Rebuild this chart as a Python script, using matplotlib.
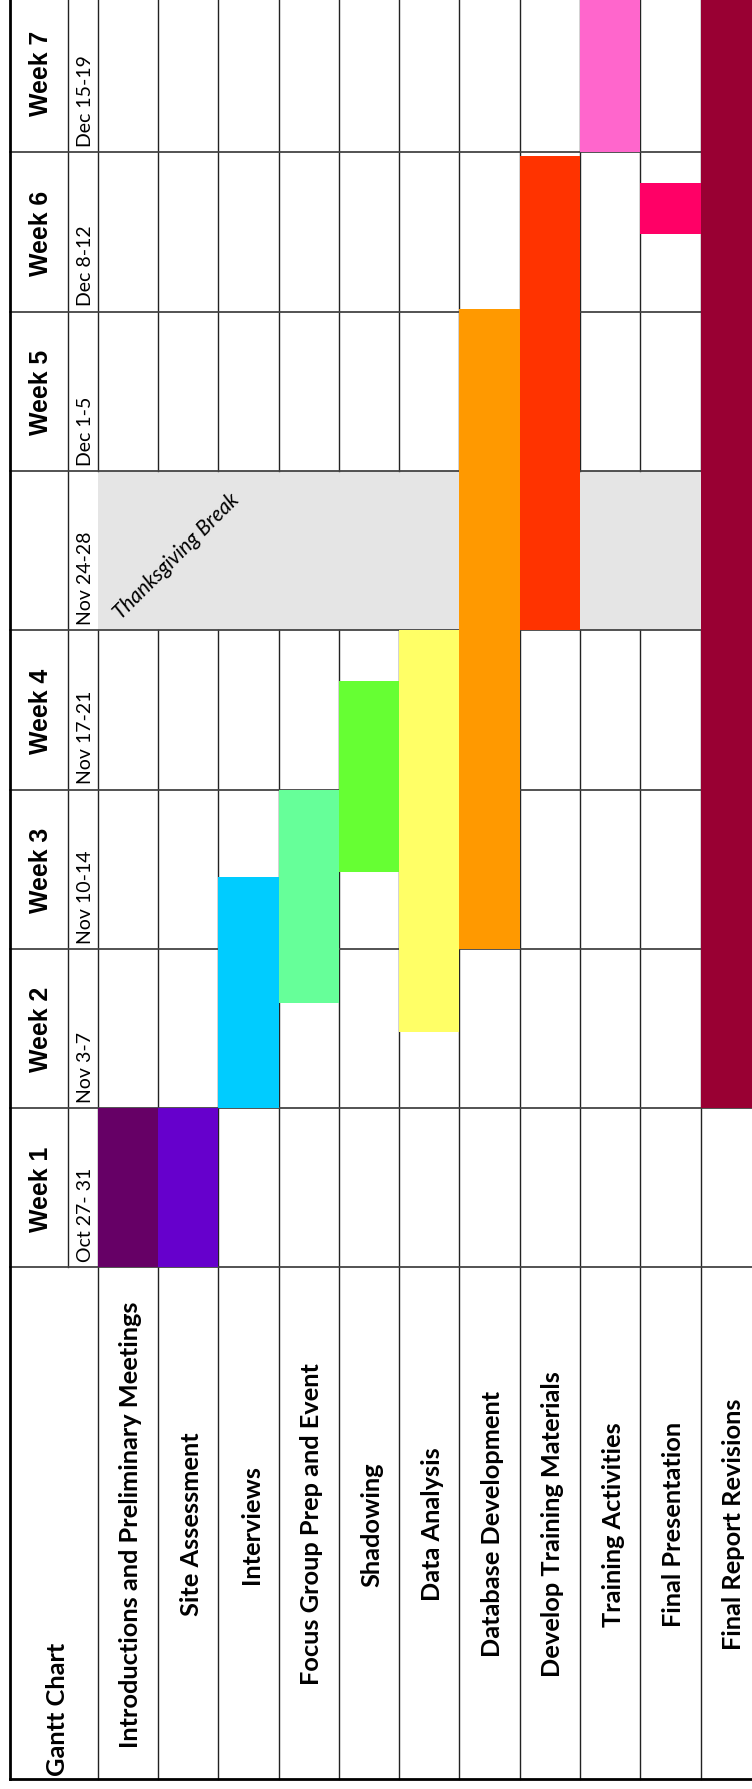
import numpy as np
import matplotlib
matplotlib.use('Agg')
import matplotlib.pyplot as plt
from matplotlib.patches import Rectangle

# tasks (one column each, left to right in the rotated picture)
tasks = ['Introductions and Preliminary Meetings', 'Site Assessment', 'Interviews',
         'Focus Group Prep and Event', 'Shadowing', 'Data Analysis', 'Database Development',
         'Develop Training Materials', 'Training Activities', 'Final Presentation',
         'Final Report Revisions']
# start / end in weeks from Oct 27 (week slot 4 is the Thanksgiving break)
task_start = [0, 0, 1, 1.66, 2.48, 1.48, 2.0, 4.0, 7.0, 6.49, 1.0]
task_end = [1, 1, 2.45, 3.0, 3.68, 4.0, 6.02, 6.98, 8.0, 6.81, 8.0]
task_colors = ['#660066', '#6600CC', '#00CCFF', '#66FF99', '#66FF33', '#FFFF66',
               '#FF9900', '#FF3300', '#FF66CC', '#FF0066', '#990033']

week_labels = ['Week 1', 'Week 2', 'Week 3', 'Week 4', '', 'Week 5', 'Week 6', 'Week 7']
date_labels = ['Oct 27- 31', 'Nov 3-7', 'Nov 10-14', 'Nov 17-21', 'Nov 24-28',
               'Dec 1-5', 'Dec 8-12', 'Dec 15-19']
break_slot = 4

# layout (x in task columns, y in weeks)
x_left, x_date = -1.454, -0.488
y_bottom = -3.211
n_tasks = len(tasks)
n_weeks = len(week_labels)

fig = plt.figure(figsize=(7.52, 17.9), dpi=100)
ax = fig.add_axes([0, 0, 1, 1])
ax.set_xlim(-1.620, 10.851)
ax.set_ylim(-3.274, 7.963)
ax.axis('off')

lc = '#222222'
# vertical grid lines between task columns, broken over the holiday
for i in range(n_tasks + 1):
    ax.plot([i, i], [y_bottom, break_slot], color=lc, lw=1.0, zorder=2)
    ax.plot([i, i], [break_slot + 1, 9], color=lc, lw=1.0, zorder=2)
ax.plot([x_date, x_date], [0, 9], color=lc, lw=1.0, zorder=2)
# week boundaries
for k in range(n_weeks):
    ax.plot([x_left, 12], [k, k], color='#444444', lw=1.3, zorder=2)
# outer border
ax.plot([x_left, x_left], [y_bottom, 9], color='black', lw=2.0, zorder=4)
ax.plot([x_left, 12], [y_bottom, y_bottom], color='black', lw=2.0, zorder=4)

# holiday shading
ax.add_patch(Rectangle((0, break_slot), 10, 1, facecolor='#E5E5E5', edgecolor='none', zorder=1))
ax.text(1.30, break_slot + 0.47, 'Thanksgiving Break', rotation=45, style='italic',
        family='Lato', fontsize=15, ha='center', va='center', zorder=5)

# task bars
heights = np.array(task_end) - np.array(task_start)
ax.bar(np.arange(n_tasks) + 0.5, heights, bottom=task_start, width=1.0,
       color=task_colors, edgecolor='none', zorder=3)

# week and date headers
weeks, dates = [], []
for k in range(n_weeks):
    if week_labels[k]:
        weeks.append(ax.text(-0.94, k + 0.5, week_labels[k], rotation=90, fontsize=17,
                             fontweight='bold', family='Liberation Sans',
                             ha='center', va='center', zorder=5))
    dates.append(ax.text(-0.21, k + 0.04, date_labels[k], rotation=90, fontsize=14,
                         family='Lato', ha='center', va='bottom', zorder=5))

# task names
labels = []
for i, name in enumerate(tasks):
    labels.append(ax.text(i + 0.55, -1.606, name, rotation=90, fontsize=16, fontweight='bold',
                          family='Lato', ha='center', va='center', zorder=5))
title = ax.text(-0.542, -3.186, 'Gantt Chart', rotation=90, rotation_mode='anchor',
                fontsize=16, fontweight='bold', family='Lato', ha='left', va='baseline', zorder=5)

# match text lengths of the original (px along the rotated text)
r = fig.canvas.get_renderer()
def fit(group, ref, target):
    s = target / ref.get_window_extent(r).height
    for t in group:
        t.set_fontsize(t.get_fontsize() * s)

fit(labels + [title], labels[0], 450)
fit(weeks, weeks[-1], 85)
fit(dates, dates[4], 94)

fig.savefig('out.png', dpi=100)
